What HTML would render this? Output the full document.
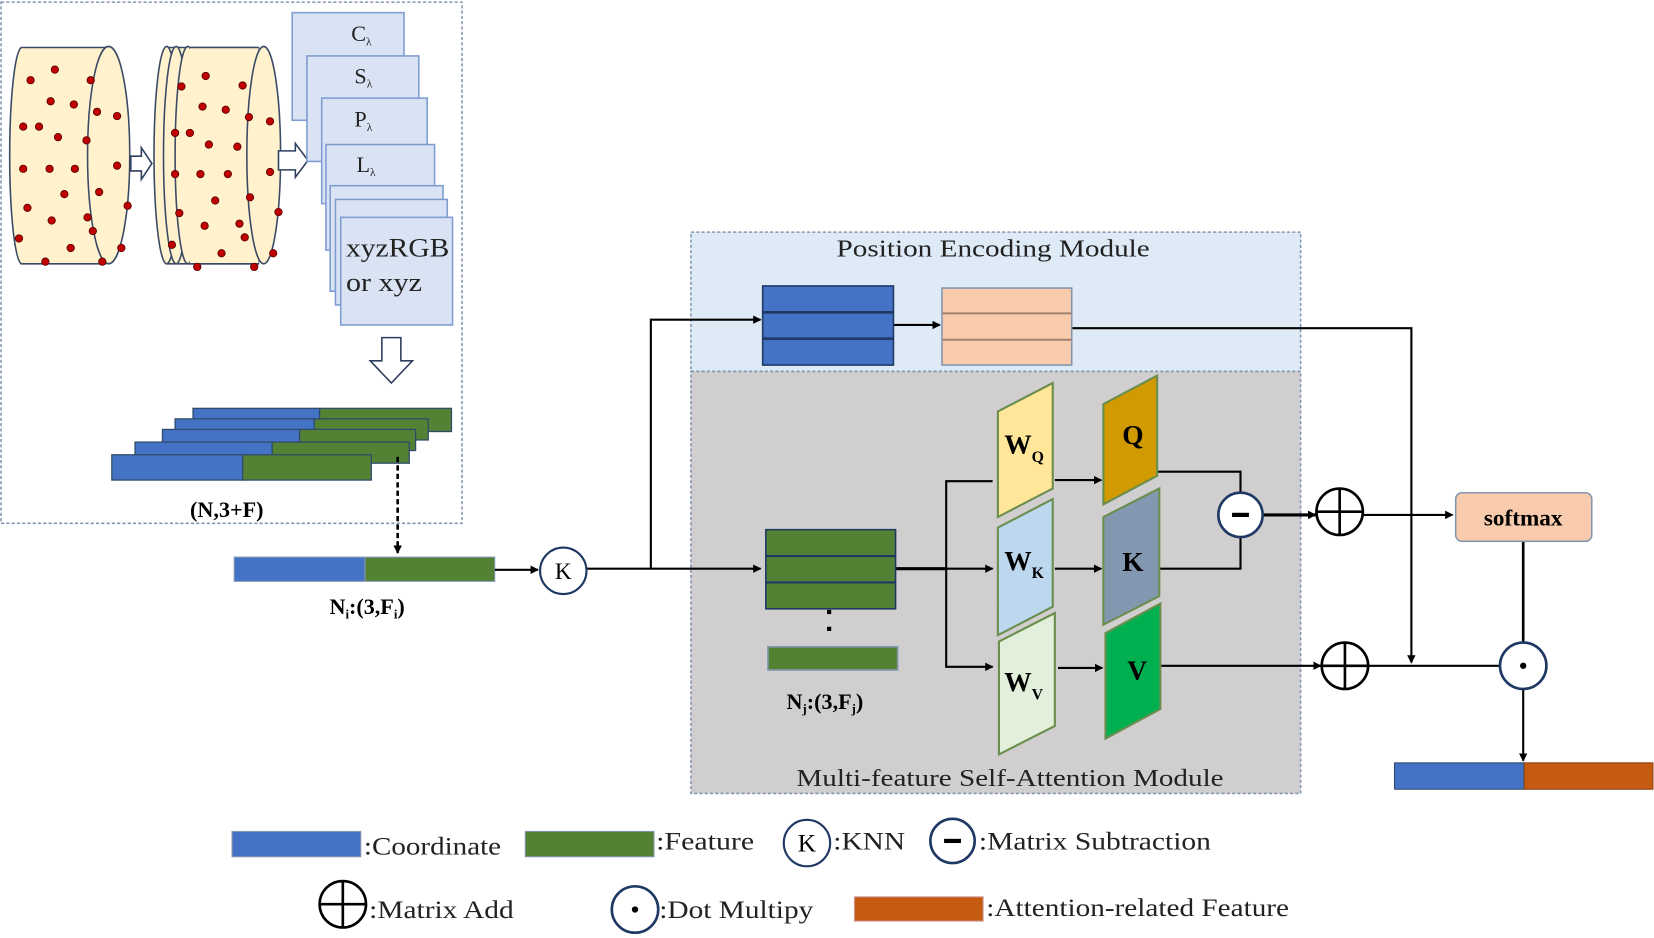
<!DOCTYPE html>
<html><head><meta charset="utf-8"><style>html,body{margin:0;padding:0;background:#fff}svg{display:block}</style></head>
<body>
<svg width="1654" height="938" viewBox="0 0 1568 889" preserveAspectRatio="none" xmlns="http://www.w3.org/2000/svg" font-family="'Liberation Serif',serif">
<defs>
<marker id="a" markerWidth="8" markerHeight="8" refX="7" refY="4" orient="auto" markerUnits="userSpaceOnUse"><path d="M0,0 L8,4 L0,8 z" fill="#000"/></marker>
</defs>
<rect width="1568" height="889" fill="#fff"/>
<rect x="1" y="2" width="437" height="494" fill="none" stroke="#8497b0" stroke-width="1.5" stroke-dasharray="3,2"/>
<g stroke="#3b4a66" stroke-width="1.5" fill="#fff2cc">
<path d="M20,45 L100,45 L100,250 L20,250 A12,103 0 0 1 20,45 z"/>
<ellipse cx="103" cy="147" rx="20" ry="103"/>
<path d="M158,45 L245,45 L245,250 L158,250 z"/>
<ellipse cx="158" cy="147" rx="12" ry="103"/>
<ellipse cx="167" cy="147" rx="12" ry="103"/>
<ellipse cx="178" cy="147" rx="12" ry="103"/>
<rect x="180" y="45" width="65" height="205" stroke="none"/>
<line x1="180" y1="45" x2="245" y2="45"/><line x1="180" y1="250" x2="245" y2="250"/>
<ellipse cx="250" cy="147" rx="16" ry="103"/>
</g>
<g fill="#c00000" stroke="#5a0000" stroke-width="0.8">
<circle cx="29" cy="76" r="3.5"/><circle cx="52" cy="66" r="3.5"/><circle cx="86" cy="76" r="3.5"/><circle cx="48" cy="96" r="3.5"/><circle cx="70" cy="99" r="3.5"/><circle cx="92" cy="106" r="3.5"/><circle cx="111" cy="110" r="3.5"/><circle cx="22" cy="120" r="3.5"/><circle cx="37" cy="120" r="3.5"/><circle cx="55" cy="130" r="3.5"/><circle cx="82" cy="133" r="3.5"/><circle cx="22" cy="160" r="3.5"/><circle cx="47" cy="160" r="3.5"/><circle cx="71" cy="160" r="3.5"/><circle cx="111" cy="157" r="3.5"/><circle cx="61" cy="184" r="3.5"/><circle cx="94" cy="182" r="3.5"/><circle cx="26" cy="197" r="3.5"/><circle cx="121" cy="195" r="3.5"/><circle cx="49" cy="209" r="3.5"/><circle cx="83" cy="206" r="3.5"/><circle cx="88" cy="219" r="3.5"/><circle cx="18" cy="226" r="3.5"/><circle cx="67" cy="235" r="3.5"/><circle cx="115" cy="235" r="3.5"/><circle cx="43" cy="248" r="3.5"/><circle cx="97" cy="248" r="3.5"/>
<circle cx="172" cy="82" r="3.5"/><circle cx="195" cy="72" r="3.5"/><circle cx="230" cy="81" r="3.5"/><circle cx="192" cy="101" r="3.5"/><circle cx="214" cy="104" r="3.5"/><circle cx="236" cy="111" r="3.5"/><circle cx="256" cy="115" r="3.5"/><circle cx="166" cy="126" r="3.5"/><circle cx="180" cy="126" r="3.5"/><circle cx="198" cy="137" r="3.5"/><circle cx="225" cy="139" r="3.5"/><circle cx="166" cy="165" r="3.5"/><circle cx="190" cy="165" r="3.5"/><circle cx="216" cy="165" r="3.5"/><circle cx="256" cy="163" r="3.5"/><circle cx="204" cy="190" r="3.5"/><circle cx="237" cy="187" r="3.5"/><circle cx="170" cy="202" r="3.5"/><circle cx="264" cy="201" r="3.5"/><circle cx="194" cy="214" r="3.5"/><circle cx="227" cy="212" r="3.5"/><circle cx="232" cy="225" r="3.5"/><circle cx="163" cy="232" r="3.5"/><circle cx="210" cy="240" r="3.5"/><circle cx="259" cy="240" r="3.5"/><circle cx="187" cy="253" r="3.5"/><circle cx="241" cy="253" r="3.5"/>
</g>
<g fill="#fff" stroke="#2f3f5f" stroke-width="1.5">
<path d="M124,148 L134,148 L134,140 L144,155 L134,170 L134,162 L124,162 z"/>
<path d="M264,143 L280,143 L280,136 L292,152 L280,168 L280,161 L264,161 z"/>
<path d="M362,320 L380,320 L380,342 L391,342 L371,363 L351,342 L362,342 z"/>
</g>
<g fill="#dae3f3" stroke="#7f9dd1" stroke-width="1.5">
<rect x="277" y="12" width="106" height="102"/>
<rect x="291" y="53" width="106" height="100"/>
<rect x="305" y="93" width="100" height="100"/>
<rect x="309" y="137" width="103" height="100"/>
<rect x="313" y="176" width="107" height="100"/>
<rect x="318" y="189" width="106" height="100"/>
<rect x="323" y="206" width="106" height="102"/>
</g>
<g font-size="21" fill="#222">
<text x="333" y="39">C<tspan font-size="11" dy="4">λ</tspan></text>
<text x="336" y="79">S<tspan font-size="11" dy="4">λ</tspan></text>
<text x="336" y="120">P<tspan font-size="11" dy="4">λ</tspan></text>
<text x="338" y="163">L<tspan font-size="11" dy="4">λ</tspan></text>
<text x="328" y="243" font-size="25" textLength="98" lengthAdjust="spacingAndGlyphs">xyzRGB</text>
<text x="328" y="276" font-size="25" textLength="72" lengthAdjust="spacingAndGlyphs">or xyz</text>
</g>
<g stroke="#2f4a6a" stroke-width="1.2">
<rect x="183" y="387" width="120" height="22" fill="#4472c4"/><rect x="303" y="387" width="125" height="22" fill="#548235"/>
<rect x="166" y="397" width="132" height="20" fill="#4472c4"/><rect x="298" y="397" width="108" height="20" fill="#548235"/>
<rect x="154" y="407" width="130" height="20" fill="#4472c4"/><rect x="284" y="407" width="110" height="20" fill="#548235"/>
<rect x="128" y="419" width="130" height="20" fill="#4472c4"/><rect x="258" y="419" width="130" height="20" fill="#548235"/>
<rect x="106" y="431" width="124" height="24" fill="#4472c4"/><rect x="230" y="431" width="122" height="24" fill="#548235"/>
</g>
<text x="215" y="490" font-size="21" font-weight="bold" text-anchor="middle">(N,3+F)</text>
<line x1="377" y1="433" x2="377" y2="524" stroke="#000" stroke-width="2.5" stroke-dasharray="5,3" marker-end="url(#a)"/>
<rect x="222" y="528" width="124" height="23" fill="#4472c4" stroke="#8497b0"/>
<rect x="346" y="528" width="123" height="23" fill="#548235" stroke="#8497b0"/>
<text x="348" y="582" font-size="21" font-weight="bold" text-anchor="middle">N<tspan font-size="12" dy="4">i</tspan><tspan dy="-4">:(3,F</tspan><tspan font-size="12" dy="4">i</tspan><tspan dy="-4">)</tspan></text>
<rect x="655" y="220" width="578" height="132" fill="#deebf7" stroke="#8497b0" stroke-width="1.5" stroke-dasharray="3,2"/>
<rect x="655" y="352" width="578" height="400" fill="#d0cece" stroke="#8497b0" stroke-width="1.5" stroke-dasharray="3,2"/>
<text x="793" y="243" font-size="23" fill="#222" textLength="297" lengthAdjust="spacingAndGlyphs">Position Encoding Module</text>
<text x="755" y="745" font-size="23" fill="#222" textLength="405" lengthAdjust="spacingAndGlyphs">Multi-feature Self-Attention Module</text>
<g stroke="#000" stroke-width="2" fill="none">
<line x1="469" y1="540" x2="510" y2="540" marker-end="url(#a)"/>
<line x1="556" y1="539" x2="721" y2="539" marker-end="url(#a)"/>
<polyline points="617,539 617,303 721,303" marker-end="url(#a)"/>
<line x1="847" y1="308" x2="891" y2="308" marker-end="url(#a)"/>
<polyline points="1016,311 1338,311 1338,628" marker-end="url(#a)"/>
<line x1="849" y1="539" x2="897" y2="539" stroke-width="3"/>
<polyline points="941,456 897,456 897,632 941,632" marker-end="url(#a)"/>
<line x1="897" y1="539" x2="941" y2="539" marker-end="url(#a)"/>
<line x1="1000" y1="455" x2="1044" y2="455" marker-end="url(#a)"/>
<line x1="1000" y1="539" x2="1044" y2="539" marker-end="url(#a)"/>
<line x1="1003" y1="633" x2="1045" y2="633" marker-end="url(#a)"/>
<polyline points="1097,447 1176,447 1176,467"/>
<polyline points="1099,539 1176,539 1176,509"/>
<line x1="1197" y1="488" x2="1247" y2="488" marker-end="url(#a)" stroke-width="3"/>
<line x1="1291" y1="488" x2="1377" y2="488" marker-end="url(#a)"/>
<line x1="1100" y1="631" x2="1252" y2="631" marker-end="url(#a)"/>
<line x1="1296" y1="631" x2="1422" y2="631"/>
<line x1="1444" y1="512" x2="1444" y2="609" stroke-width="2.5"/>
<line x1="1444" y1="653" x2="1444" y2="721" marker-end="url(#a)"/>
</g>
<circle cx="534" cy="541" r="22" fill="#fff" stroke="#1f3864" stroke-width="2"/>
<text x="534" y="549" font-size="22" text-anchor="middle">K</text>
<g stroke="#1f3864" stroke-width="1.5">
<rect x="723" y="271" width="124" height="75" fill="#4472c4"/>
<line x1="723" y1="296" x2="847" y2="296" stroke-width="2.5"/><line x1="723" y1="321" x2="847" y2="321" stroke-width="2.5"/>
</g>
<g stroke="#8497b0" stroke-width="1.5">
<rect x="893" y="273" width="123" height="73" fill="#f8cbad"/>
<line x1="893" y1="297" x2="1016" y2="297" stroke="#a08070" stroke-width="2"/><line x1="893" y1="322" x2="1016" y2="322" stroke="#a08070" stroke-width="2"/>
</g>
<g stroke="#1f3864" stroke-width="1.5">
<rect x="726" y="502" width="123" height="75" fill="#548235"/>
<line x1="726" y1="527" x2="849" y2="527" stroke-width="2"/><line x1="726" y1="552" x2="849" y2="552" stroke-width="2"/>
<rect x="728" y="613" width="123" height="22" fill="#548235" stroke="#8497b0"/>
</g>
<rect x="784" y="578" width="4" height="4"/><rect x="784" y="594" width="4" height="4"/>
<text x="782" y="672" font-size="21" font-weight="bold" text-anchor="middle">N<tspan font-size="12" dy="4">j</tspan><tspan dy="-4">:(3,F</tspan><tspan font-size="12" dy="4">j</tspan><tspan dy="-4">)</tspan></text>
<g stroke="#6b8e4e" stroke-width="2">
<polygon points="946,390 998,363 998,463 946,490" fill="#ffe699"/>
<polygon points="946,500 998,473 998,575 946,602" fill="#bdd7ee"/>
<polygon points="947,608 1000,581 1000,688 947,715" fill="#e2efda"/>
<polygon points="1046,383 1097,356 1097,451 1046,478" fill="#d09a00"/>
<polygon points="1046,490 1099,463 1099,565 1046,592" fill="#8497b0"/>
<polygon points="1048,600 1100,572 1100,672 1048,700" fill="#00b050"/>
</g>
<g font-size="26" font-weight="bold">
<text x="952" y="430">W<tspan font-size="15" dy="8">Q</tspan></text>
<text x="952" y="540">W<tspan font-size="15" dy="8">K</tspan></text>
<text x="952" y="655">W<tspan font-size="15" dy="8">V</tspan></text>
<text x="1074" y="421" text-anchor="middle">Q</text>
<text x="1074" y="541" text-anchor="middle">K</text>
<text x="1078" y="644" text-anchor="middle">V</text>
</g>
<circle cx="1176" cy="488" r="21" fill="#fff" stroke="#1f3864" stroke-width="2.5"/>
<rect x="1168" y="486" width="16" height="4"/>
<g fill="none" stroke="#000" stroke-width="2.5">
<circle cx="1270" cy="485" r="22"/><line x1="1248" y1="485" x2="1292" y2="485"/><line x1="1270" y1="463" x2="1270" y2="507"/>
<circle cx="1275" cy="631" r="22"/><line x1="1253" y1="631" x2="1297" y2="631"/><line x1="1275" y1="609" x2="1275" y2="653"/>
</g>
<circle cx="1444" cy="631" r="22" fill="#fff" stroke="#1f3864" stroke-width="2.5"/>
<circle cx="1444" cy="631" r="3"/>
<rect x="1380" y="467" width="129" height="46" rx="6" fill="#f8cbad" stroke="#8497b0" stroke-width="1.5"/>
<text x="1444" y="498" font-size="22" font-weight="bold" text-anchor="middle">softmax</text>
<rect x="1322" y="723" width="123" height="25" fill="#4472c4" stroke="#2f4a6a"/>
<rect x="1445" y="723" width="122" height="25" fill="#c55a11" stroke="#8a4010"/>
<g font-size="24" fill="#222" lengthAdjust="spacingAndGlyphs">
<rect x="220" y="788" width="122" height="24" fill="#4472c4" stroke="#8497b0"/>
<text x="345" y="810" textLength="130" lengthAdjust="spacingAndGlyphs">:Coordinate</text>
<rect x="498" y="788" width="122" height="24" fill="#548235" stroke="#8497b0"/>
<text x="622" y="805" textLength="93" lengthAdjust="spacingAndGlyphs">:Feature</text>
<circle cx="765" cy="799" r="22" fill="#fff" stroke="#1f3864" stroke-width="2"/>
<text x="765" y="807" text-anchor="middle" fill="#000">K</text>
<text x="790" y="805" textLength="68" lengthAdjust="spacingAndGlyphs">:KNN</text>
<circle cx="903" cy="797" r="21" fill="#fff" stroke="#1f3864" stroke-width="2.5"/>
<rect x="895" y="795" width="16" height="4" fill="#000"/>
<text x="928" y="805" textLength="220" lengthAdjust="spacingAndGlyphs">:Matrix Subtraction</text>
<g fill="none" stroke="#000" stroke-width="2.5"><circle cx="325" cy="857" r="22"/><line x1="303" y1="857" x2="347" y2="857"/><line x1="325" y1="835" x2="325" y2="879"/></g>
<text x="350" y="870" textLength="137" lengthAdjust="spacingAndGlyphs">:Matrix Add</text>
<circle cx="602" cy="862" r="22" fill="#fff" stroke="#1f3864" stroke-width="2.5"/>
<circle cx="602" cy="862" r="3" fill="#000"/>
<text x="625" y="870" textLength="146" lengthAdjust="spacingAndGlyphs">:Dot Multipy</text>
<rect x="810" y="850" width="122" height="23" fill="#c55a11" stroke="#c99"/>
<text x="935" y="868" textLength="287" lengthAdjust="spacingAndGlyphs">:Attention-related Feature</text>
</g>
</svg>
</body></html>
